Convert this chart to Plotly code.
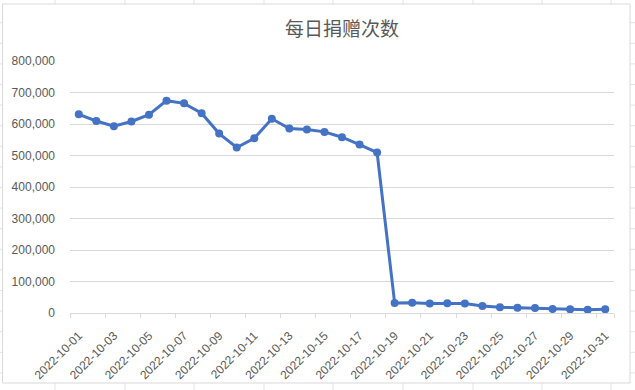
import plotly.graph_objects as go

dates = ["2022-10-01", "2022-10-02", "2022-10-03", "2022-10-04", "2022-10-05",
         "2022-10-06", "2022-10-07", "2022-10-08", "2022-10-09", "2022-10-10",
         "2022-10-11", "2022-10-12", "2022-10-13", "2022-10-14", "2022-10-15",
         "2022-10-16", "2022-10-17", "2022-10-18", "2022-10-19", "2022-10-20",
         "2022-10-21", "2022-10-22", "2022-10-23", "2022-10-24", "2022-10-25",
         "2022-10-26", "2022-10-27", "2022-10-28", "2022-10-29", "2022-10-30",
         "2022-10-31"]
donations = [630700, 609500, 592700, 608000, 629700, 674000, 665500, 634000,
             569600, 525300, 554700, 616500, 585800, 582800, 575000, 558000,
             534700, 509500, 31600, 32600, 30500, 31000, 30000, 22000, 17900,
             16800, 15800, 12600, 12300, 10500, 12300]
label_dates = dates[::2]
y_ticks = [0, 100000, 200000, 300000, 400000, 500000, 600000, 700000, 800000]
y_labels = ["0", "100,000", "200,000", "300,000", "400,000", "500,000",
            "600,000", "700,000", "800,000"]
title_text = "每日捐赠次数"

W, H = 635, 390
L, R, T, B = 70, 21, 61, 77
PW, PH = W - L - R, H - T - B


def px(x):
    return (x - L) / PW


def py(y):
    return (H - B - y) / PH


grid_col = "#D9D9D9"
text_col = "#595959"
sheet_col = "#E3E3E3"

fig = go.Figure()
fig.add_trace(go.Scatter(
    x=dates, y=donations, mode="lines+markers",
    line=dict(color="#4472C4", width=3),
    marker=dict(color="#4472C4", size=8),
    hoverinfo="x+y",
))

shapes = []
# spreadsheet cell lines behind the chart object
for xv in [55, 125, 194, 264, 333, 403, 473, 542, 611]:
    shapes.append(dict(type="line", xref="paper", yref="paper", layer="below",
                       x0=px(xv), x1=px(xv), y0=py(0), y1=py(4),
                       line=dict(color=sheet_col, width=1)))
    shapes.append(dict(type="line", xref="paper", yref="paper", layer="below",
                       x0=px(xv), x1=px(xv), y0=py(383), y1=py(390),
                       line=dict(color=sheet_col, width=1)))
yv = 22.7
while yv < 390:
    shapes.append(dict(type="line", xref="paper", yref="paper", layer="below",
                       x0=px(0), x1=px(2.5), y0=py(yv), y1=py(yv),
                       line=dict(color=sheet_col, width=1)))
    shapes.append(dict(type="line", xref="paper", yref="paper", layer="below",
                       x0=px(630), x1=px(635), y0=py(yv), y1=py(yv),
                       line=dict(color=sheet_col, width=1)))
    yv += 20.6
# chart area border
shapes.append(dict(type="rect", xref="paper", yref="paper", layer="below",
                   x0=px(2.5), x1=px(630), y0=py(383), y1=py(4),
                   line=dict(color="#D9D9D9", width=1)))

fig.update_layout(
    width=W, height=H,
    margin=dict(l=L, r=R, t=T, b=B, pad=0, autoexpand=False),
    paper_bgcolor="white", plot_bgcolor="white",
    showlegend=False,
    font=dict(family="Liberation Sans, Noto Sans CJK SC, sans-serif",
              size=12, color=text_col),
    title=dict(text=title_text, x=0.5, xref="paper", xanchor="center",
               y=1 - 29 / H, yref="container", yanchor="middle",
               font=dict(family="Noto Sans CJK SC, sans-serif", size=19,
                         color=text_col)),
    shapes=shapes,
    xaxis=dict(
        type="category", categoryorder="array", categoryarray=dates,
        range=[-0.5, len(dates) - 0.5],
        tickmode="array", tickvals=label_dates, ticktext=label_dates,
        tickson="boundaries", ticks="outside", ticklen=4,
        tickcolor=grid_col, tickwidth=1,
        tickangle=-45, showgrid=False,
        showline=True, linecolor=grid_col, linewidth=1,
        tickfont=dict(size=12, color=text_col),
        ticklabelstandoff=10,
        automargin=False,
        fixedrange=True,
    ),
    yaxis=dict(
        range=[0, 800000],
        tickmode="array", tickvals=y_ticks, ticktext=y_labels,
        showgrid=True, gridcolor=grid_col, gridwidth=1,
        zeroline=True, zerolinecolor=grid_col, zerolinewidth=1,
        ticks="", ticklabelstandoff=14,
        tickfont=dict(size=12, color=text_col),
        automargin=False,
        fixedrange=True,
    ),
)

fig.write_html(
    "out.html",
    config={"displayModeBar": False},
    post_script="document.body.style.margin='0';document.body.style.padding='0';",
)
